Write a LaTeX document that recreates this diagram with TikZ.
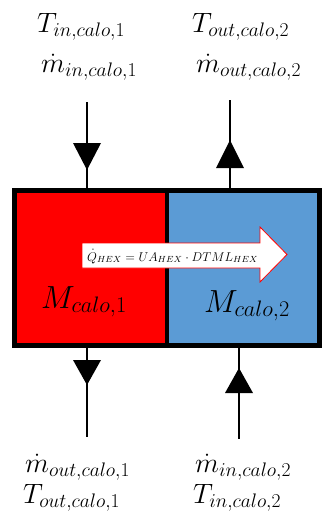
\documentclass[tikz,border=0pt]{standalone}
\usepackage{fix-cm}
\usepackage{amsmath}
\definecolor{calored}{RGB}{255,0,0}
\definecolor{caloblue}{RGB}{91,155,213}
\tikzset{
  lbl/.style={anchor=base west, inner sep=0pt, font=\fontsize{28}{32}\selectfont},
  mlbl/.style={anchor=base west, inner sep=0pt, font=\fontsize{32}{36}\selectfont},
  half/.style={inner sep=0pt, minimum width=152.5pt, minimum height=154.5pt},
  flow/.style={line width=2pt},
  tri/.style={fill=black},
}
\begin{document}
\begin{tikzpicture}[x=1pt,y=-1pt]
\useasboundingbox (0,0) rectangle (324,523);
% calorimeter halves
\node[half, fill=calored] (c1) at (90.75,268.25) {};
\node[half, fill=caloblue] (c2) at (243.25,268.25) {};
\draw[line width=3.5pt] (c1.north east) -- (c1.south east);
\draw[line width=5pt] (c1.north west) rectangle (c2.south east);
% labels
\node[lbl] (tin1) at (37,32) {$T_{in,calo,1}$};
\node[lbl] (min1) at (41,72) {$\dot{m}_{in,calo,1}$};
\node[lbl] (tout2) at (192,32) {$T_{out,calo,2}$};
\node[lbl] (mout2) at (196,72) {$\dot{m}_{out,calo,2}$};
\node[lbl] (mout1) at (25,472) {$\dot{m}_{out,calo,1}$};
\node[lbl] (tout1) at (23,503) {$T_{out,calo,1}$};
\node[lbl] (min2) at (195,472) {$\dot{m}_{in,calo,2}$};
\node[lbl] (tin2) at (193,503) {$T_{in,calo,2}$};
\node[mlbl] (m1) at (41,308) {$M_{calo,1}$};
\node[mlbl] (m2) at (204,312) {$M_{calo,2}$};
% flow lines
\coordinate (a1) at (87,102);
\coordinate (b1) at (87,189);
\coordinate (a2) at (230,100);
\coordinate (b2) at (230,189);
\coordinate (a3) at (87,348);
\coordinate (b3) at (87,437);
\coordinate (a4) at (239,348);
\coordinate (b4) at (239,439);
\draw[flow] (a1) -- (b1);
\draw[flow] (a2) -- (b2);
\draw[flow] (a3) -- (b3);
\draw[flow] (a4) -- (b4);
\fill[tri] (73,143) -- (101,143) -- (87,170) -- cycle;
\fill[tri] (216,168) -- (244,168) -- (230,140) -- cycle;
\fill[tri] (73,360) -- (101,360) -- (87,385) -- cycle;
\fill[tri] (225,393) -- (253,393) -- (239,368) -- cycle;
% heat flow arrow
\draw[red, fill=white, line width=0.8pt] (82,243) -- (260,243) -- (260,227) -- (287,254.5) -- (260,282) -- (260,268) -- (82,268) -- cycle;
\node[anchor=base west, inner sep=0pt, font=\fontsize{12.7}{15}\selectfont] (q) at (87,261) {$\dot{Q}_{HEX} = UA_{HEX}\cdot DTML_{HEX}$};
\end{tikzpicture}
\end{document}
